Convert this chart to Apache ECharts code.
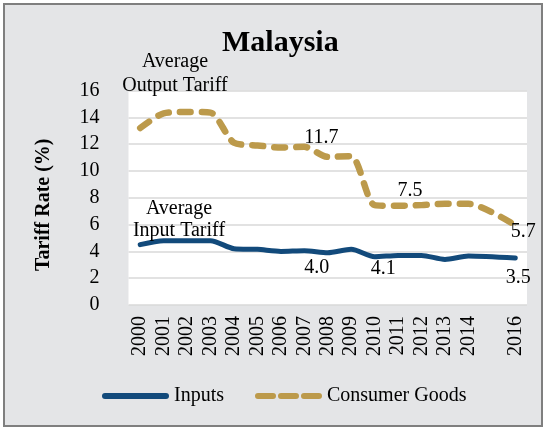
<!DOCTYPE html>
<html>
<head>
    <meta charset="utf-8">
    <script src="https://cdn.jsdelivr.net/npm/echarts@6/dist/echarts.min.js"></script>
    <style>
        body { margin: 0; background: #fff; }
        #frame { position: absolute; left: 3px; top: 3px; width: 536px; height: 420px;
                 border: 2px solid #7f7f7f; background: #e4e5e7; }
        #main { position: absolute; left: 0; top: 0; width: 546px; height: 428px; }
    </style>
</head>
<body>
<div id="frame"></div>
<div id="main"></div>
<script type="text/javascript">
    // tick labels (no 2015 in the source)
    var years = ['2000', '2001', '2002', '2003', '2004', '2005', '2006', '2007', '2008',
                 '2009', '2010', '2011', '2012', '2013', '2014', '', '2016'];
    // average input tariff (%)
    var inputs = [4.5, 4.8, 4.8, 4.8, 4.2, 4.15, 4.0, 4.05, 3.9, 4.15, 3.6, 3.7, 3.7, 3.4, 3.65, null, 3.5];
    // average output tariff on consumer goods (%)
    var consumer = [13.2, 14.3, 14.4, 14.35, 12.1, 11.9, 11.75, 11.8, 11.05, 11.1, 7.45, 7.4, 7.45, 7.55, 7.55, null, 5.95];
    // callout texts printed on the chart
    var inputNotes = { '2008': '4.0', '2009': '4.1', '2016': '3.5' };
    var consumerNotes = { '2007': '11.7', '2011': '7.5', '2016': '5.7' };

    var serif = 'Liberation Serif';
    var blue = '#124a7b';
    var gold = '#bc9a4b';
    var noteOffset = {
        inputs: { '2008': [-11, 15], '2009': [32, 19], '2016': [3, 20] },
        consumer: { '2007': [17, -9], '2011': [12, -15], '2016': [8, 7] }
    };

    function withNotes(values, notes, offsets) {
        return values.map(function (v, i) {
            var y = years[i];
            if (notes[y] === undefined) return v;
            return {
                value: v,
                label: {
                    show: true,
                    position: 'inside',
                    offset: offsets[y],
                    formatter: notes[y],
                    fontFamily: serif,
                    fontSize: 20,
                    color: '#000'
                }
            };
        });
    }

    var myChart = echarts.init(document.getElementById('main'));

    var option = {
        animation: false,
        title: {
            text: 'Malaysia',
            left: 217,
            top: 23,
            textStyle: { fontFamily: serif, fontSize: 30, fontWeight: 'bold', color: '#000' }
        },
        grid: {
            left: 128.5, right: 19, top: 90.5, bottom: 123,
            show: true, backgroundColor: '#fff', borderWidth: 0
        },
        legend: {
            left: 97,
            top: 381,
            itemWidth: 67,
            itemHeight: 6,
            itemGap: 31,
            textStyle: { fontFamily: serif, fontSize: 20, color: '#000' },
            data: [
                { name: 'Inputs', icon: 'path://M3,0H64A3,3 0 0 1 64,6H3A3,3 0 0 1 3,0Z' },
                { name: 'Consumer Goods',
                  icon: 'path://M3,0H18A3,3 0 0 1 18,6H3A3,3 0 0 1 3,0Z' +
                        'M26,0H41A3,3 0 0 1 41,6H26A3,3 0 0 1 26,0Z' +
                        'M49,0H64A3,3 0 0 1 64,6H49A3,3 0 0 1 49,0Z' }
            ]
        },
        xAxis: {
            type: 'category',
            data: years,
            boundaryGap: true,
            axisLine: { show: false },
            axisTick: { show: false },
            axisLabel: {
                interval: 0, rotate: 90, margin: 11,
                fontFamily: serif, fontSize: 20, color: '#000'
            }
        },
        yAxis: {
            type: 'value',
            min: 0, max: 16, interval: 2,
            name: 'Tariff Rate (%)',
            nameLocation: 'middle',
            nameGap: 75,
            nameTextStyle: {
                fontFamily: serif, fontSize: 20, fontWeight: 'bold', color: '#000',
                padding: [0, 14, 0, 0]
            },
            axisLine: { show: false },
            axisTick: { show: false },
            splitLine: { lineStyle: { color: '#d9d9d9', width: 1.5 } },
            axisLabel: { margin: 29, fontFamily: serif, fontSize: 20, color: '#000' }
        },
        graphic: [
            {
                type: 'text', x: 175, y: 50, z: 10,
                style: {
                    text: 'Average\nOutput Tariff',
                    align: 'center', textAlign: 'center',
                    verticalAlign: 'top', textVerticalAlign: 'top',
                    font: '20px "Liberation Serif"', lineHeight: 24, fill: '#000'
                }
            },
            {
                type: 'text', x: 179, y: 198, z: 10,
                style: {
                    text: 'Average\nInput Tariff',
                    align: 'center', textAlign: 'center',
                    verticalAlign: 'top', textVerticalAlign: 'top',
                    font: '20px "Liberation Serif"', lineHeight: 22, fill: '#000'
                }
            }
        ],
        series: [
            {
                name: 'Inputs',
                type: 'line',
                data: withNotes(inputs, inputNotes, noteOffset.inputs),
                connectNulls: true,
                smooth: 0.25,
                symbol: 'circle',
                symbolSize: 1,
                showSymbol: true,
                itemStyle: { color: blue },
                lineStyle: { color: blue, width: 5, cap: 'round', join: 'round' },
                z: 3
            },
            {
                name: 'Consumer Goods',
                type: 'line',
                data: withNotes(consumer, consumerNotes, noteOffset.consumer),
                connectNulls: true,
                smooth: 0.25,
                symbol: 'circle',
                symbolSize: 1,
                showSymbol: true,
                itemStyle: { color: gold },
                lineStyle: { color: gold, width: 6.5, type: [11, 11], cap: 'round', join: 'round' },
                z: 2
            }
        ]
    };

    myChart.setOption(option);
</script>
</body>
</html>
